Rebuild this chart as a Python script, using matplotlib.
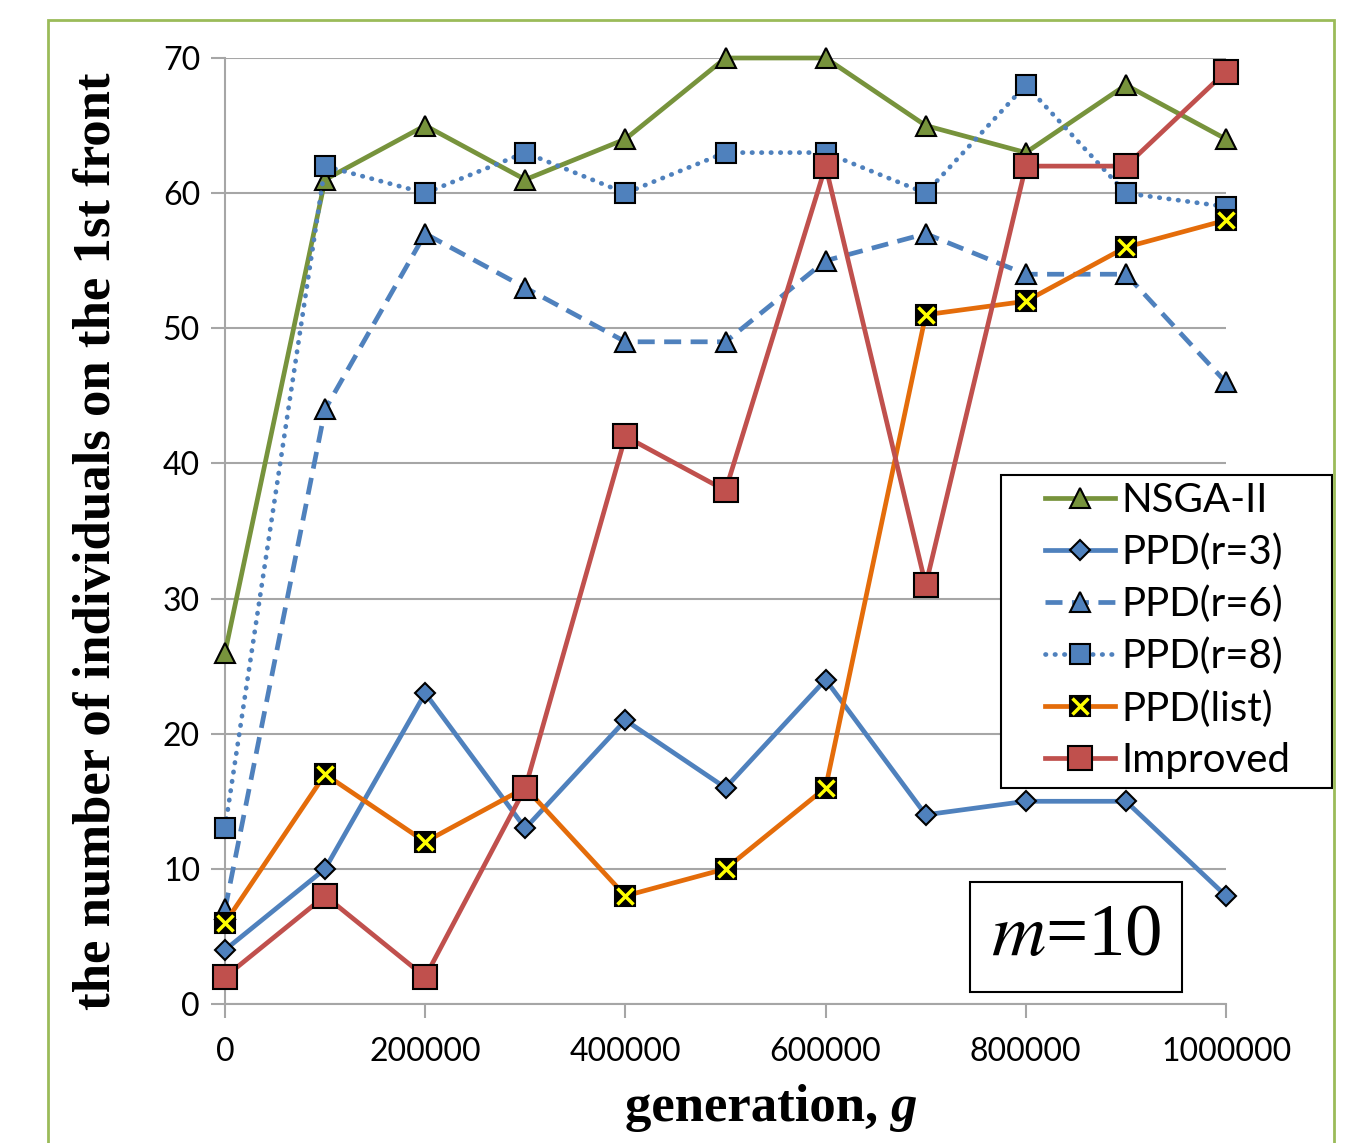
import numpy as np
import matplotlib
matplotlib.use("Agg")
import matplotlib.pyplot as plt
from matplotlib import patches
from matplotlib.legend_handler import HandlerTuple

# data
generation = [0, 100000, 200000, 300000, 400000, 500000, 600000, 700000, 800000, 900000, 1000000]
nsga2 = [26, 61, 65, 61, 64, 70, 70, 65, 63, 68, 64]
ppd_r3 = [4, 10, 23, 13, 21, 16, 24, 14, 15, 15, 8]
ppd_r6 = [7, 44, 57, 53, 49, 49, 55, 57, 54, 54, 46]
ppd_r8 = [13, 62, 60, 63, 60, 63, 63, 60, 68, 60, 59]
ppd_list = [6, 17, 12, 16, 8, 10, 16, 51, 52, 56, 58]
improved = [2, 8, 2, 16, 42, 38, 62, 31, 62, 62, 69]

xticks = [0, 200000, 400000, 600000, 800000, 1000000]
yticks = [0, 10, 20, 30, 40, 50, 60, 70]
labels = ["NSGA-II", "PPD(r=3)", "PPD(r=6)", "PPD(r=8)", "PPD(list)", "Improved"]

green = "#77933C"
blue = "#4F81BD"
orange = "#E46C0A"
red = "#C0504D"
grid_c = "#A6A6A6"

plt.rcParams['mathtext.fontset'] = 'stix'

W, H = 1368, 1143
fig = plt.figure(figsize=(W / 100, H / 100), dpi=100)
ax = fig.add_axes([225 / W, 1 - 1004 / H, (1226 - 225) / W, (1004 - 58) / H])

lw = 3.4
common = dict(mec="black", mew=1.5, clip_on=False)
h_nsga, = ax.plot(generation, nsga2, color=green, lw=lw, marker="^", ms=15, mfc=green,
                  zorder=3, **common)
h_r3, = ax.plot(generation, ppd_r3, color=blue, lw=lw, marker="D", ms=10, mfc=blue,
                zorder=4, **common)
h_r6, = ax.plot(generation, ppd_r6, color=blue, lw=lw, ls=(0, (3.6, 2.0)), marker="^", ms=15,
                mfc=blue, zorder=5, **common)
h_r8, = ax.plot(generation, ppd_r8, color=blue, lw=lw, ls=(0, (0.1, 1.9)), dash_capstyle="round",
                marker="s", ms=14, mfc=blue, zorder=6, **common)
h_list, = ax.plot(generation, ppd_list, color=orange, lw=lw, marker="s", ms=14, mfc="black",
                  zorder=7, **common)
h_list_x, = ax.plot(generation, ppd_list, ls="none", marker="x", ms=11, mec="yellow", mew=2.5,
                    zorder=7.1, clip_on=False)
h_imp, = ax.plot(generation, improved, color=red, lw=lw, marker="s", ms=17, mfc=red,
                 zorder=8, **common)

ax.set_xlim(0, 1000000)
ax.set_ylim(0, 70)
ax.set_xticks(xticks)
ax.set_yticks(yticks)
ax.set_xticklabels([str(v) for v in xticks])
ax.grid(axis="y", color=grid_c, lw=1.5, zorder=0)
ax.set_axisbelow(True)
for s in ["top", "right"]:
    ax.spines[s].set_visible(False)
for s in ["left", "bottom"]:
    ax.spines[s].set_color(grid_c)
    ax.spines[s].set_linewidth(1.5)
ax.tick_params(axis="both", direction="out", length=10, width=1.5, color=grid_c,
               labelsize=23, pad=8)
ax.tick_params(axis="x", pad=14)
for t in ax.get_xticklabels() + ax.get_yticklabels():
    t.set_fontfamily("Lato")

# axis titles
fig.text(97 / W, 1 - 541 / H, "the number of individuals on the 1st front", rotation=90,
         ha="center", va="center", fontsize=38, fontweight="bold", family="Liberation Serif")
t1 = fig.text(625 / W, 1 - 1108 / H, "generation, ", ha="left", va="center", fontsize=38,
              fontweight="bold", family="Liberation Serif")
ax.annotate("g", xy=(1, 0), xycoords=t1, va="bottom", ha="left", fontsize=38,
            fontweight="bold", style="italic", family="Liberation Serif",
            annotation_clip=False)

# m=10 box
fig.add_artist(patches.Rectangle((970 / W, 1 - 992 / H), (1182 - 970) / W, (992 - 882) / H,
                                 transform=fig.transFigure, fc="white", ec="black", lw=1.5))
fig.text(1076 / W, 1 - 937 / H, "$m$=10", ha="center", va="center", fontsize=54,
         family="Liberation Serif")

# legend, frame drawn separately
fig.add_artist(patches.Rectangle((1001 / W, 1 - 788 / H), (1332 - 1001) / W, (788 - 475) / H,
                                 transform=fig.transFigure, fc="white", ec="black", lw=1.5))
handles = [h_nsga, h_r3, h_r6, h_r8, (h_list, h_list_x), h_imp]
leg = fig.legend(handles, labels, loc="upper left", bbox_to_anchor=(1045 / W, 1 - 482 / H),
                 bbox_transform=fig.transFigure, borderaxespad=0, borderpad=0,
                 prop={"family": "Lato", "size": 29}, handlelength=1.75, handletextpad=0.15,
                 labelspacing=0.36, frameon=False,
                 handler_map={tuple: HandlerTuple(ndivide=1)})

# outer green frame
fig.add_artist(patches.Rectangle((48 / W, -0.05), (1334 - 48) / W, 0.05 + 1 - 20 / H,
                                 transform=fig.transFigure, fill=False, ec="#9BBB59", lw=2))

fig.savefig("out.png", dpi=100)
